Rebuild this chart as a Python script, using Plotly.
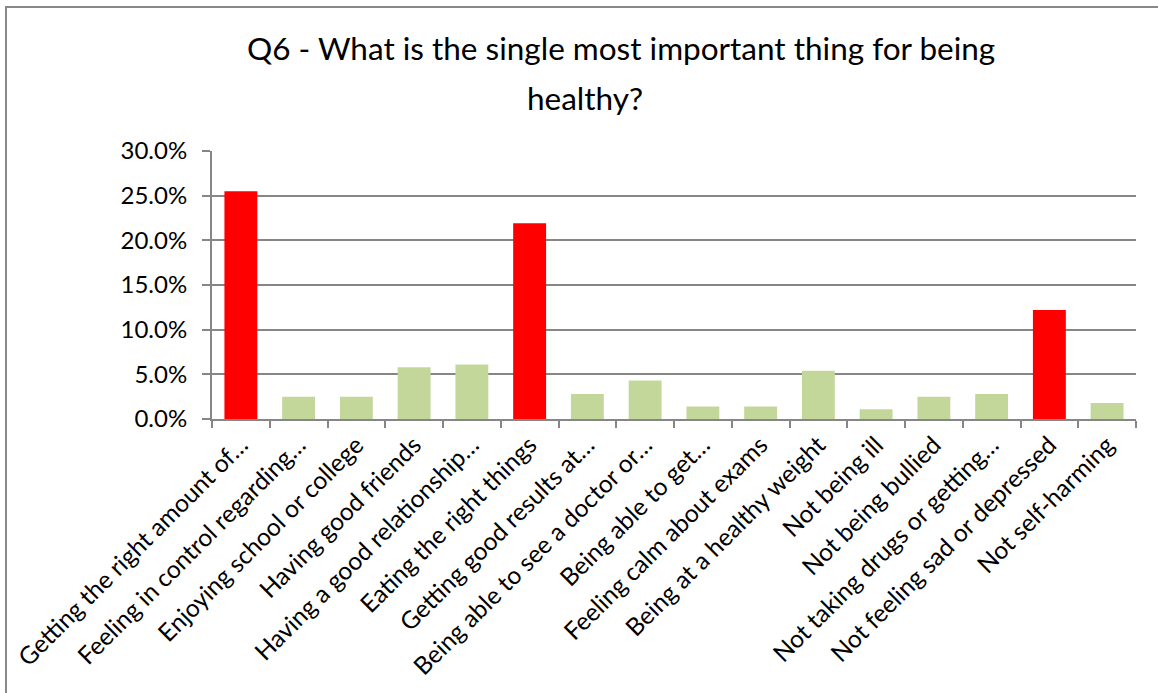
import plotly.graph_objects as go

categories = [
    "Getting the right amount of…",
    "Feeling in control regarding…",
    "Enjoying school or college",
    "Having good friends",
    "Having a good relationship…",
    "Eating the right things",
    "Getting good results at…",
    "Being able to see a doctor or…",
    "Being able to get…",
    "Feeling calm about exams",
    "Being at a healthy weight",
    "Not being ill",
    "Not being bullied",
    "Not taking drugs or getting…",
    "Not feeling sad or depressed",
    "Not self-harming",
]
values = [25.5, 2.5, 2.5, 5.8, 6.1, 21.9, 2.8, 4.3, 1.4, 1.4, 5.4, 1.1, 2.5, 2.8, 12.2, 1.8]
highlight = [True, False, False, False, False, True, False, False, False, False,
             False, False, False, False, True, False]
y_ticks = [0, 5, 10, 15, 20, 25, 30]

RED = "#FF0000"
GREEN = "#C4D79B"
colors = [RED if h else GREEN for h in highlight]

W, H = 1158, 693
L, R, T, B = 212, 22, 151, 274
pw, ph = W - L - R, H - T - B

def px_x(x):
    return (x - L) / pw

def px_y(y):
    return (H - B - y) / ph

FONT = "Lato"

fig = go.Figure(go.Bar(
    x=categories, y=values,
    marker=dict(color=colors, line=dict(width=0)),
))

fig.update_layout(
    width=W, height=H,
    margin=dict(l=L, r=R, t=T, b=B, autoexpand=False),
    paper_bgcolor="white", plot_bgcolor="white",
    bargap=0.43,
    showlegend=False,
    font=dict(family=FONT, color="black", size=24),
)
fig.update_xaxes(
    type="category",
    tickangle=-45,
    showline=True, linecolor="#868686", linewidth=2,
    ticks="outside", tickson="boundaries", ticklen=7, tickcolor="#868686", tickwidth=2,
    showgrid=False, automargin=False,
    tickfont=dict(family=FONT, size=24.5, color="black"),
)
fig.update_yaxes(
    range=[0, 30], tickvals=y_ticks,
    ticktext=[f"{v:.1f}%" for v in y_ticks],
    showline=True, linecolor="#868686", linewidth=2,
    ticks="outside", ticklen=8, tickcolor="#868686", tickwidth=2,
    ticklabelstandoff=10,
    showgrid=True, gridcolor="#868686", gridwidth=2,
    zeroline=False, automargin=False,
    tickfont=dict(family=FONT, size=24, color="black"),
)

fig.add_annotation(
    text="Q6 - What is the single most important thing for being",
    xref="paper", yref="paper", x=px_x(621), y=px_y(48),
    xanchor="center", yanchor="middle", showarrow=False,
    font=dict(family=FONT, size=31.5, color="black"),
)
fig.add_annotation(
    text="healthy?",
    xref="paper", yref="paper", x=px_x(585), y=px_y(98),
    xanchor="center", yanchor="middle", showarrow=False,
    font=dict(family=FONT, size=31.5, color="black"),
)

fig.add_shape(
    type="rect", xref="paper", yref="paper",
    x0=px_x(6), x1=px_x(1170), y0=px_y(710), y1=px_y(7),
    line=dict(color="#888888", width=2), fillcolor="rgba(0,0,0,0)", layer="below",
)

fig.write_html("out.html")
